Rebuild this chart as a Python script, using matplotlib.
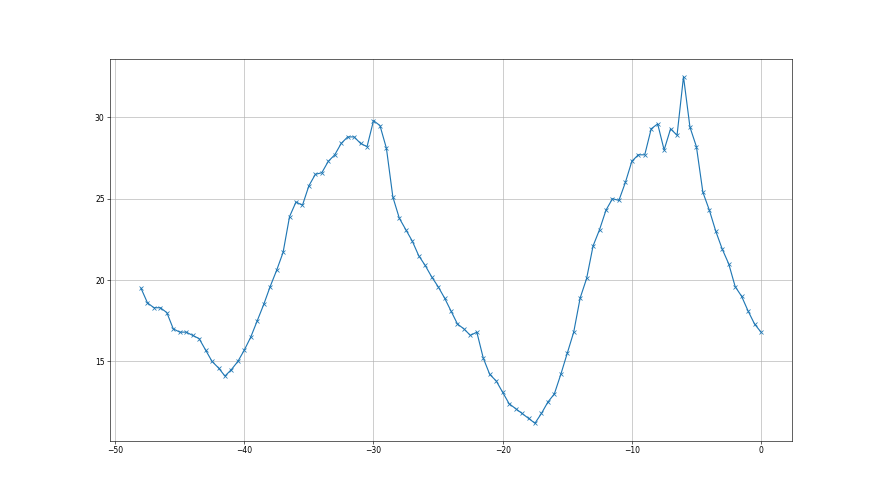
import matplotlib
matplotlib.use('Agg')
import matplotlib.pyplot as plt
import numpy as np

# x positions: every half step from -48 to 0
x_start = -48.0
x_step = 0.5

values = [
    19.5, 18.6, 18.3, 18.3, 18.0, 17.0, 16.8, 16.8, 16.6, 16.4,
    15.7, 15.0, 14.6, 14.1, 14.5, 15.0, 15.7, 16.5, 17.5, 18.5,
    19.6, 20.6, 21.7, 23.9, 24.8, 24.6, 25.8, 26.5, 26.6, 27.3,
    27.7, 28.4, 28.8, 28.8, 28.4, 28.2, 29.8, 29.5, 28.1, 25.1,
    23.8, 23.1, 22.4, 21.5, 20.9, 20.2, 19.6, 18.9, 18.1, 17.3,
    17.0, 16.6, 16.8, 15.2, 14.2, 13.8, 13.1, 12.4, 12.1, 11.8,
    11.5, 11.2, 11.8, 12.5, 13.0, 14.2, 15.5, 16.8, 18.9, 20.1,
    22.1, 23.1, 24.3, 25.0, 24.9, 26.0, 27.3, 27.7, 27.7, 29.3,
    29.6, 28.0, 29.3, 28.9, 32.5, 29.4, 28.2, 25.4, 24.3, 23.0,
    21.9, 21.0, 19.6, 19.0, 18.1, 17.3, 16.8,
]

xs = x_start + x_step * np.arange(len(values))

fig = plt.figure(figsize=(16, 9), dpi=55)
ax = fig.add_subplot(1, 1, 1)
ax.plot(xs, values, marker='x', color='#1f77b4')
ax.grid(True)

fig.savefig('out.png', dpi=55)
